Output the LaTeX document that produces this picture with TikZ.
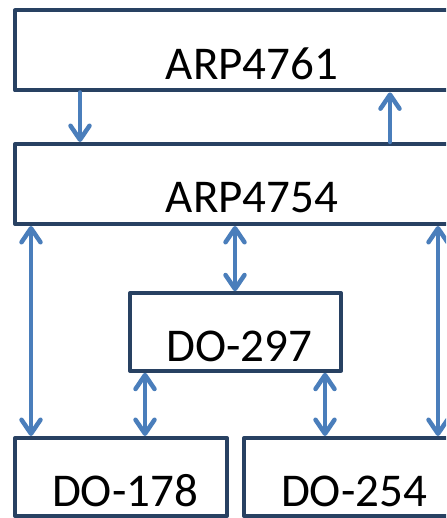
\documentclass[tikz,border=0pt]{standalone}
\usepackage{fontspec}
\setmainfont{Carlito}
\usetikzlibrary{arrows.meta}
\definecolor{boxnavy}{RGB}{40,65,98}
\definecolor{linkblue}{RGB}{74,126,187}
\tikzset{
  stdbox/.style={draw=boxnavy,line width=4pt,fill=white,inner sep=0pt,
    font=\fontsize{47}{56}\selectfont,text height=58pt,text depth=0pt},
  link/.style={draw=linkblue,line width=4.5pt}
}

\begin{document}
\begin{tikzpicture}[line cap=round,line join=round,>={Straight Barb[length=14pt,width=19pt,round]},x=1pt,y=-1pt]
\useasboundingbox (0,0) rectangle (446,518);
\clip (0,0) rectangle (446,518);
% standards
\node[stdbox,minimum width=474pt,minimum height=80pt] (arp61) at (252,50.4) {ARP4761};
\node[stdbox,minimum width=474pt,minimum height=80pt] (arp54) at (252,184) {ARP4754};
\node[stdbox,minimum width=211pt,minimum height=77.5pt] (do297) at (235.5,332) {\hspace{8pt}DO-297};
\node[stdbox,minimum width=212pt,minimum height=78pt] (do178) at (121,477) {\hspace{8pt}DO-178};
\node[stdbox,minimum width=220pt,minimum height=78pt] (do254) at (354,477) {DO-254};
% links
\draw[link,->] (arp61.south -| 80,0) -- (arp54.north -| 80,0);
\draw[link,->] (arp54.north -| 390,0) -- (arp61.south -| 390,0);
\draw[link,<->] (arp54.south -| 31,0) -- (do178.north -| 31,0);
\draw[link,<->] (arp54.south -| 235,0) -- (do297.north -| 235,0);
\draw[link,<->] (arp54.south -| 438,0) -- (do254.north -| 438,0);
\draw[link,<->] (do297.south -| 145,0) -- (do178.north -| 145,0);
\draw[link,<->] (do297.south -| 325,0) -- (do254.north -| 325,0);
\end{tikzpicture}
\end{document}
